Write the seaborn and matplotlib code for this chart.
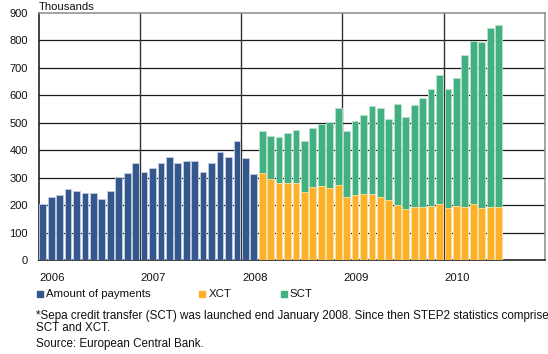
import numpy as np
import pandas as pd
import matplotlib
matplotlib.use("Agg")
import matplotlib.pyplot as plt
from matplotlib.patches import Rectangle
from matplotlib.transforms import blended_transform_factory
import seaborn as sns

# Monthly STEP2 volumes, thousands of transactions
years = ["2006", "2007", "2008", "2009", "2010"]

# Jan 2006 - Feb 2008: total amount of payments
payments = [204, 231, 237, 259, 251, 243, 243, 223, 253, 302, 316, 352,
            322, 337, 353, 376, 352, 361, 361, 321, 355, 394, 376, 434,
            371, 314]

# Mar 2008 - Jul 2010: split into XCT and SCT
xct = [317, 294, 281, 281, 279, 248, 266, 268, 262, 272,
       229, 237, 242, 242, 229, 220, 201, 186, 193, 193, 196, 203,
       190, 198, 193, 203, 191, 193, 192]
sct = [153, 158, 168, 182, 194, 186, 214, 227, 242, 282,
       241, 270, 287, 320, 325, 292, 367, 334, 373, 396, 428, 472,
       434, 466, 555, 594, 605, 654, 664]

legend_labels = ["Amount of payments", "XCT", "SCT"]
footnote_lines = ["*Sepa credit transfer (SCT) was launched end January 2008. "
                  "Since then STEP2 statistics comprise",
                  "SCT and XCT.",
                  "Source: European Central Bank."]

BLUE, ORANGE, GREEN = "#34578e", "#fdb12a", "#42b080"
BLUE_E, ORANGE_E, GREEN_E = "#c3cde0", "#fde2a6", "#b8e2cf"

n_pay, n_split = len(payments), len(xct)
months = [f"m{i:02d}" for i in range(n_pay + n_split)]
df = pd.DataFrame({
    "month": months,
    "payments": payments + [np.nan] * n_split,
    "xct": [np.nan] * n_pay + xct,
    "sct": [np.nan] * n_pay + sct,
})
df["stack_top"] = df["xct"] + df["sct"]

sns.set_style("white")
plt.rcParams["font.family"] = ["Liberation Sans", "DejaVu Sans"]

W, H = 548, 354
fig = plt.figure(figsize=(W / 100, H / 100), dpi=100)
ax = fig.add_axes([38.5 / W, 1 - 260 / H, (545 - 38.5) / W, (260 - 13) / H])

common = dict(data=df, x="month", order=months, width=0.8, linewidth=0.6,
              errorbar=None, ax=ax, zorder=3)
sns.barplot(y="stack_top", color=GREEN, edgecolor=GREEN_E, saturation=1, **common)
sns.barplot(y="xct", color=ORANGE, edgecolor=ORANGE_E, saturation=1, **common)
sns.barplot(y="payments", color=BLUE, edgecolor=BLUE_E, saturation=1, **common)

ax.set_xlim(-0.5, 59.5)
ax.set_ylim(0, 900)
ax.set_yticks(range(0, 901, 100))
ax.set_xlabel("")
ax.set_ylabel("")
ax.set_xticks([])
ax.tick_params(axis="y", length=0, pad=7.5, labelsize=8, labelcolor="#111111")

# horizontal grid and yearly separators
for v in range(100, 900, 100):
    ax.axhline(v, color="#1a1a1a", lw=0.9, zorder=2)
for i in range(1, len(years)):
    ax.axvline(12 * i - 0.5, color="#333333", lw=1.0, zorder=2)

for side in ("left", "bottom"):
    ax.spines[side].set_color("#111111")
    ax.spines[side].set_linewidth(1.1)
for side in ("top", "right"):
    ax.spines[side].set_color("#8a8a8a")
    ax.spines[side].set_linewidth(1.1)

# year labels, left-aligned at the start of each year
trans = blended_transform_factory(ax.transData, ax.transAxes)
for i, y in enumerate(years):
    ax.annotate(y, xy=(12 * i - 0.5, 0), xycoords=trans,
                xytext=(0.6, -13.2), textcoords="offset points",
                ha="left", va="center", fontsize=8.1, color="#111111")

ax.text(0, 1.003, "Thousands", transform=ax.transAxes, ha="left", va="bottom",
        fontsize=8.1, color="#111111")

# legend row below the axis
def fx(px):
    return px / W

def fy(py):
    return 1 - py / H

for (sq_x, txt_x), lab, col in zip([(37.3, 46), (199, 209), (280.7, 289.3)],
                                   legend_labels, [BLUE, ORANGE, GREEN]):
    fig.patches.append(Rectangle((fx(sq_x), fy(297.3)), 6 / W, 6 / H,
                                 transform=fig.transFigure, color=col))
    fig.text(fx(txt_x), fy(294.3), lab, ha="left", va="center",
             fontsize=8.2, color="#111111")

for line, (px, py) in zip(footnote_lines, [(35.7, 315.5), (36, 328), (36, 343.7)]):
    fig.text(fx(px), fy(py), line, ha="left", va="center", fontsize=8.35,
             color="#111111")

fig.savefig("out.png", dpi=100)
